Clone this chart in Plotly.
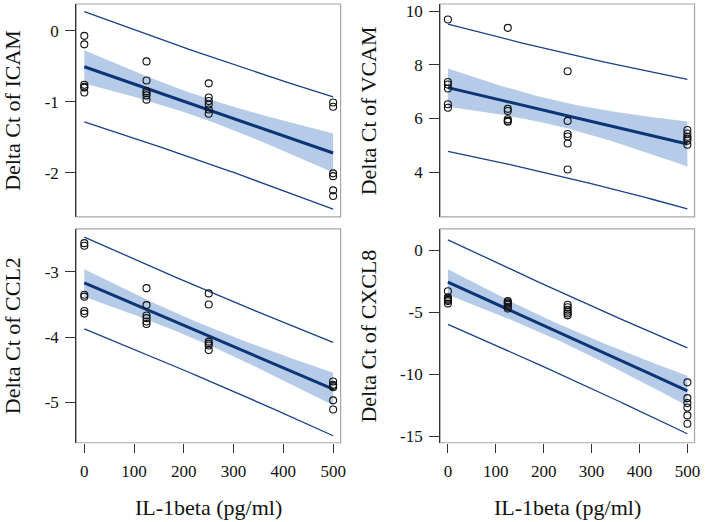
import math
import numpy as np
import plotly.graph_objects as go

# ---- data ----
dose = [0, 0, 0, 0, 0, 0,
        125, 125, 125, 125, 125, 125,
        250, 250, 250, 250, 250, 250,
        500, 500, 500, 500, 500, 500]

icam = [-0.07, -0.19, -0.76, -0.79, -0.80, -0.87,
        -0.43, -0.70, -0.85, -0.88, -0.91, -0.97,
        -0.74, -0.94, -0.99, -1.04, -1.11, -1.17,
        -1.01, -1.07, -2.01, -2.05, -2.25, -2.33]

vcam = [9.69, 7.36, 7.27, 7.12, 6.53, 6.40,
        9.38, 6.36, 6.28, 5.97, 5.91, 5.88,
        7.76, 5.91, 5.42, 5.33, 5.07, 4.10,
        5.57, 5.44, 5.32, 5.25, 5.17, 5.02]

ccl2 = [-2.56, -2.60, -3.35, -3.38, -3.60, -3.64,
        -3.25, -3.51, -3.67, -3.71, -3.76, -3.80,
        -3.33, -3.50, -4.07, -4.10, -4.13, -4.20,
        -4.68, -4.73, -4.75, -4.77, -4.97, -5.11]

cxcl8 = [-3.30, -3.80, -3.90, -4.00, -4.10, -4.30,
         -4.10, -4.20, -4.30, -4.40, -4.55, -4.70,
         -4.40, -4.60, -4.80, -4.95, -5.10, -5.25,
         -10.66, -11.94, -12.34, -12.69, -13.33, -14.00]

y_titles = ["Delta Ct of ICAM", "Delta Ct of VCAM", "Delta Ct of CCL2", "Delta Ct of CXCL8"]
x_title = "IL-1beta (pg/ml)"

icam_ticks = [0, -1, -2]
vcam_ticks = [4, 6, 8, 10]
ccl2_ticks = [-3, -4, -5]
cxcl8_ticks = [0, -5, -10, -15]
x_ticks = [0, 100, 200, 300, 400, 500]

# ---- helpers ----
def t_ppf(p, df):
    c = math.exp(math.lgamma((df + 1) / 2) - math.lgamma(df / 2)) / math.sqrt(df * math.pi)

    def cdf(t):
        xs = np.linspace(0, t, 4001)
        ys = c * (1 + xs ** 2 / df) ** (-(df + 1) / 2)
        return 0.5 + np.trapezoid(ys, xs)

    lo, hi = 0.0, 20.0
    for _ in range(80):
        mid = (lo + hi) / 2
        if cdf(mid) < p:
            lo = mid
        else:
            hi = mid
    return (lo + hi) / 2


def ols_bands(x, y, grid):
    x = np.asarray(x, float)
    y = np.asarray(y, float)
    n = len(x)
    xm = x.mean()
    sxx = ((x - xm) ** 2).sum()
    b = ((x - xm) * (y - y.mean())).sum() / sxx
    a = y.mean() - b * xm
    res = y - (a + b * x)
    s = math.sqrt((res ** 2).sum() / (n - 2))
    t = t_ppf(0.975, n - 2)
    fit = a + b * grid
    se_m = s * np.sqrt(1 / n + (grid - xm) ** 2 / sxx)
    se_p = s * np.sqrt(1 + 1 / n + (grid - xm) ** 2 / sxx)
    return fit, fit - t * se_m, fit + t * se_m, fit - t * se_p, fit + t * se_p


FIT_COL = "#0c3577"
PI_COL = "#17418c"
BAND_COL = "#b6cbe8"
BOX_COL = "#a6a6a6"
AX_COL = "#333333"
FONT = "Liberation Serif, Times New Roman, serif"

W, H = 709, 522
col_px = [(77, 343.5), (444, 700.5)]
row_px = [(2, 217), (229, 445)]

panels = [
    (icam, icam_ticks, [-2.625, 0.38], 0, 0),
    (vcam, vcam_ticks, [2.33, 10.27], 0, 1),
    (ccl2, ccl2_ticks, [-5.62, -2.34], 1, 0),
    (cxcl8, cxcl8_ticks, [-15.54, 1.74], 1, 1),
]

fig = go.Figure()
grid = np.linspace(0, 500, 201)
shapes = []
annotations = []

for i, (yv, yt, yr, r, c) in enumerate(panels):
    k = i + 1
    xa = "x" if k == 1 else f"x{k}"
    ya = "y" if k == 1 else f"y{k}"
    fit, clo, chi, plo, phi = ols_bands(dose, yv, grid)

    fig.add_trace(go.Scatter(x=grid, y=chi, mode="lines", line=dict(width=0),
                             xaxis=xa, yaxis=ya, showlegend=False, hoverinfo="skip"))
    fig.add_trace(go.Scatter(x=grid, y=clo, mode="lines", line=dict(width=0),
                             fill="tonexty", fillcolor=BAND_COL,
                             xaxis=xa, yaxis=ya, showlegend=False, hoverinfo="skip"))
    for pv in (plo, phi):
        fig.add_trace(go.Scatter(x=grid, y=pv, mode="lines", line=dict(color=PI_COL, width=1.3),
                                 xaxis=xa, yaxis=ya, showlegend=False))
    fig.add_trace(go.Scatter(x=grid, y=fit, mode="lines", line=dict(color=FIT_COL, width=3),
                             xaxis=xa, yaxis=ya, showlegend=False))
    fig.add_trace(go.Scatter(x=dose, y=yv, mode="markers",
                             marker=dict(symbol="circle-open", size=7, color="#111111",
                                         line=dict(width=1.1)),
                             xaxis=xa, yaxis=ya, showlegend=False))

    x0, x1 = col_px[c]
    y0, y1 = row_px[r]
    xdom = [x0 / W, x1 / W]
    ydom = [1 - y1 / H, 1 - y0 / H]
    bottom = (r == 1)

    xkey = "xaxis" if k == 1 else f"xaxis{k}"
    ykey = "yaxis" if k == 1 else f"yaxis{k}"
    fig.layout[xkey] = dict(
        domain=xdom, anchor=ya, range=[-16, 515],
        showgrid=False, zeroline=False, showline=False,
        tickmode="array", tickvals=x_ticks, ticktext=[str(v) for v in x_ticks],
        showticklabels=bottom, ticks="outside" if bottom else "",
        ticklen=9, tickwidth=1, tickcolor=AX_COL, ticklabelstandoff=4,
        tickfont=dict(family=FONT, size=17, color="#111111"),
    )
    fig.layout[ykey] = dict(
        domain=ydom, anchor=xa, range=yr,
        showgrid=False, zeroline=False, showline=True, linecolor=AX_COL, linewidth=1.2,
        tickmode="array", tickvals=yt, ticktext=[str(v) for v in yt],
        ticks="outside", ticklen=10, tickwidth=1, tickcolor=AX_COL, ticklabelstandoff=3,
        tickfont=dict(family=FONT, size=17, color="#111111"),
    )
    shapes.append(dict(type="rect", xref=f"{xa} domain", yref=f"{ya} domain",
                       x0=0, x1=1, y0=0, y1=1, line=dict(color=BOX_COL, width=1.2),
                       layer="below"))

    tx = 12.5 if c == 0 else 372
    annotations.append(dict(text=y_titles[i], xref="paper", yref="paper",
                            x=tx / W, y=1 - (y0 + y1) / 2 / H, textangle=-90,
                            xanchor="center", yanchor="middle", showarrow=False,
                            font=dict(family=FONT, size=22, color="#111111")))
    if bottom:
        annotations.append(dict(text=x_title, xref="paper", yref="paper",
                                x=(x0 + x1) / 2 / W, y=1 - 510 / H,
                                xanchor="center", yanchor="middle", showarrow=False,
                                font=dict(family=FONT, size=22, color="#111111")))

fig.update_layout(
    width=W, height=H, margin=dict(l=0, r=0, t=0, b=0),
    plot_bgcolor="white", paper_bgcolor="white",
    shapes=shapes, annotations=annotations,
    font=dict(family=FONT),
)

fig.write_html("out.html", config={"displayModeBar": False},
               post_script="document.body.style.margin='0';document.body.style.overflow='hidden';")
